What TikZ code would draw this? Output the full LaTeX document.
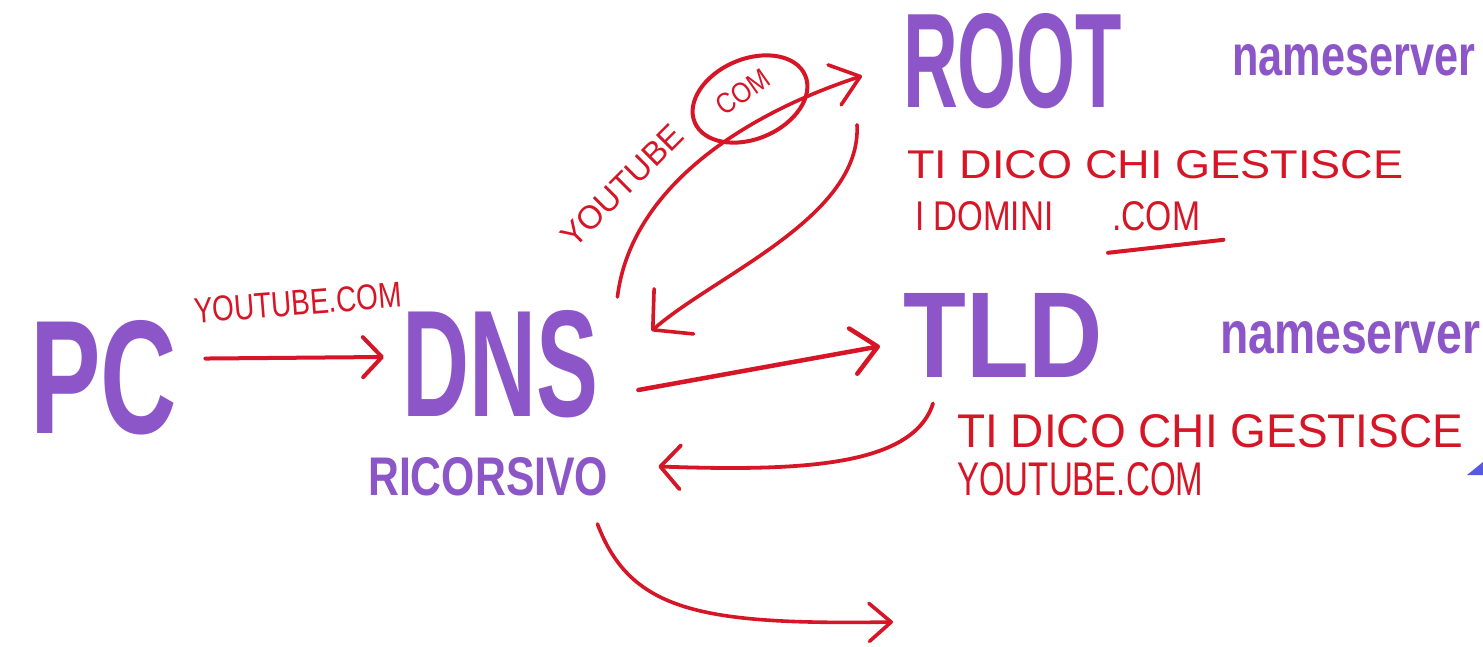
\documentclass[tikz,border=0pt]{standalone}
\usepackage{fontspec}
\setmainfont{Liberation Sans}
\usepackage{graphicx}
\usetikzlibrary{arrows.meta,shapes.geometric}
\definecolor{purp}{RGB}{140,86,200}
\definecolor{redc}{RGB}{214,22,38}
\definecolor{bluec}{RGB}{85,90,225}
\newcommand\fitto[3]{\resizebox{#1pt}{#2pt}{#3}}
\begin{document}
\begin{tikzpicture}[x=1pt,y=-1pt,
  big/.style={text=purp, font=\bfseries, inner sep=0pt, anchor=north west},
  note/.style={text=redc, inner sep=0pt, anchor=north west},
  arr/.style={draw=redc, line width=4pt, line cap=round, line join=round}]
\useasboundingbox (0,0) rectangle (1483,647);
\clip (0,0) rectangle (1483,647);
\fill[white] (0,0) rectangle (1483,647);

% purple labels
\node[big] (PC)   at (30,320)  {\fitto{147}{113}{PC}};
\node[big] (DNS)  at (402,310) {\fitto{196}{106}{DNS}};
\node[big] (ric)  at (368,457) {\fitto{240}{38}{RICORSIVO}};
\node[big] (ROOT) at (903,13)  {\fitto{219}{94}{ROOT}};
\node[big] (TLD)  at (903,293) {\fitto{200}{84}{TLD}};
\node[big] (ns1)  at (1232,44) {\fitto{243}{31}{nameserver}};
\node[big] (ns2)  at (1220,321) {\fitto{260}{32}{nameserver}};

% red notes
\node[note, anchor=center, rotate=4.5] (lbl1) at (298,303) {\fitto{208}{25}{YOUTUBE.COM}};
\node[note, anchor=center, rotate=45] (yt) at (622,186) {\fitto{158}{23}{YOUTUBE}};
\node[note, anchor=center, rotate=35] (com) at (743,92) {\fitto{58}{20}{COM}};
\node[draw=redc, line width=4pt, ellipse, minimum width=120pt, minimum height=80pt,
      rotate=23, inner sep=0pt] (ring) at (750,99) {};

\node[note] (r1) at (907,150) {\fitto{496}{28}{TI DICO CHI GESTISCE}};
\node[note] (r2) at (915,201) {\fitto{138}{29}{I DOMINI}};
\node[note] (r3) at (1112,201) {\fitto{88}{29}{.COM}};
\draw[arr] ([shift={(-4,22)}]r3.south west) -- ([shift={(23,9)}]r3.south east);

\node[note] (t1) at (957,414) {\fitto{506}{33}{TI DICO CHI GESTISCE}};
\node[note] (t2) at (957,462) {\fitto{246}{33}{YOUTUBE.COM}};

% connectors
\draw[arr, -{Straight Barb[length=19pt,width=40pt,round]}]
  ([shift={(28,-19)}]PC.east) -- ([shift={(-18,-7)}]DNS.west);
\draw[arr, line width=3.6pt, -{Straight Barb[length=27pt,width=42pt,round]}]
  ([shift={(19,-13)}]DNS.north east) .. controls +(13,-107) and +(-122,40) .. ([shift={(-41,15)}]ROOT.west);
\draw[arr, line width=3.6pt, -{Straight Barb[length=28pt,width=60pt,round]}]
  ([shift={(-46,16)}]ROOT.south west) .. controls +(5,92) and +(64,-56) .. ([shift={(53,21)}]DNS.north east);
\draw[arr, line width=4.5pt, -{Straight Barb[length=25pt,width=46pt,round]}]
  ([shift={(40,26)}]DNS.east) -- ([shift={(-23,11)}]TLD.west);
\draw[arr, line width=3.8pt, -{Straight Barb[length=20pt,width=44pt,round]}]
  ([shift={(30,26)}]TLD.south west) .. controls +(-20,63) and +(142,5) .. ([shift={(50,-10)}]ric.east);
\coordinate (nextsrv) at (893,622);
\draw[arr, line width=3.6pt, -{Straight Barb[length=22pt,width=38pt,round]}]
  ([shift={(-11,28)}]ric.south east) .. controls +(33,87) and +(-193,3) .. (nextsrv);

% blue corner fragment
\fill[bluec] (1467,475) -- (1483,462) -- (1483,475) -- cycle;
\end{tikzpicture}
\end{document}
